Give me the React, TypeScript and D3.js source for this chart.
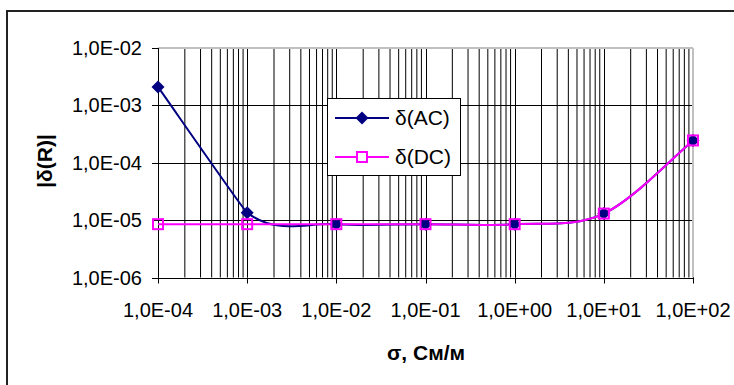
import React from "react";
import * as d3 from "d3";

const sigma = [1e-4, 1e-3, 1e-2, 1e-1, 1, 10, 100];
const acValues = [2.1e-3, 1.35e-5, 8.5e-6, 8.5e-6, 8.5e-6, 1.3e-5, 2.45e-4];
const dcValues = [8.5e-6, 8.5e-6, 8.5e-6, 8.5e-6, 8.5e-6, 1.3e-5, 2.45e-4];
const xTicks = [1e-4, 1e-3, 1e-2, 1e-1, 1, 10, 100];
const xTickLabels = ["1,0E-04", "1,0E-03", "1,0E-02", "1,0E-01", "1,0E+00", "1,0E+01", "1,0E+02"];
const yTicks = [1e-2, 1e-3, 1e-4, 1e-5, 1e-6];
const yTickLabels = ["1,0E-02", "1,0E-03", "1,0E-04", "1,0E-05", "1,0E-06"];
const seriesNames = ["δ(AC)", "δ(DC)"];

const W = 734, H = 385;
const L = 158, R = 693, T = 48, B = 277.5;
const AC_COLOR = "#000080";
const DC_COLOR = "#FF00FF";
const FONT = "'Liberation Sans', Arial, sans-serif";

// Excel-like smoothed line: uniform Catmull-Rom Bezier segments,
// optionally with the first segment's incoming handle shortened.
function smoothPath(pts: [number, number][], firstEndFactor = 1): string {
  const p = d3.path();
  const n = pts.length;
  p.moveTo(pts[0][0], pts[0][1]);
  const f = 1 / 6;
  for (let i = 0; i < n - 1; i++) {
    const p0 = pts[Math.max(0, i - 1)];
    const p1 = pts[i];
    const p2 = pts[i + 1];
    const p3 = pts[Math.min(n - 1, i + 2)];
    const c1x = p1[0] + (p2[0] - p0[0]) * f;
    const c1y = p1[1] + (p2[1] - p0[1]) * f;
    const k = i === 0 ? firstEndFactor : 1;
    const c2x = p2[0] - (p3[0] - p1[0]) * f * k;
    const c2y = p2[1] - (p3[1] - p1[1]) * f * k;
    p.bezierCurveTo(c1x, c1y, c2x, c2y, p2[0], p2[1]);
  }
  return p.toString();
}

export default function App() {
  const x = d3.scaleLog().domain([1e-4, 100]).range([L, R]);
  const y = d3.scaleLog().domain([1e-6, 1e-2]).range([B, T]);

  const minor: number[] = [];
  for (let e = -4; e < 2; e++) {
    for (let k = 2; k <= 9; k++) minor.push(k * Math.pow(10, e));
  }

  const acPts = sigma.map((s, i) => [x(s), y(acValues[i])] as [number, number]);
  const dcPts = sigma.map((s, i) => [x(s), y(dcValues[i])] as [number, number]);

  const diamond = (cx: number, cy: number, r: number) =>
    `M${cx},${cy - r}L${cx + r},${cy}L${cx},${cy + r}L${cx - r},${cy}Z`;

  return (
    <div style={{ position: "fixed", left: 0, top: 0, width: W, height: H, background: "#fff" }}>
      <svg width={W} height={H} style={{ display: "block" }} fontFamily={FONT}>
        <rect x={0} y={0} width={W} height={H} fill="#fff" />
        <rect x={7} y={11} width={900} height={600} fill="#fff" stroke="#222" strokeWidth={2} />

        {/* vertical gridlines */}
        {minor.map((v, i) => (
          <line key={"mn" + i} x1={x(v)} x2={x(v)} y1={T} y2={B} stroke="#000" strokeWidth={1} />
        ))}
        {xTicks.map((v, i) => (
          <line key={"mj" + i} x1={Math.round(x(v)) + 0.5} x2={Math.round(x(v)) + 0.5} y1={T} y2={B} stroke="#000" strokeWidth={1} />
        ))}
        {/* horizontal gridlines */}
        {yTicks.slice(1).map((v, i) => (
          <line key={"hy" + i} x1={L} x2={R} y1={Math.round(y(v)) + 0.5} y2={Math.round(y(v)) + 0.5} stroke="#000" strokeWidth={1} />
        ))}
        {/* plot border top/right */}
        <line x1={L} x2={R} y1={T} y2={T} stroke="#c0c0c0" strokeWidth={2} />
        <line x1={R} x2={R} y1={T} y2={B} stroke="#c0c0c0" strokeWidth={2} />

        {/* axes */}
        <line x1={L + 0.5} x2={L + 0.5} y1={T} y2={B} stroke="#000" strokeWidth={1} />
        <line x1={L} x2={R} y1={Math.round(B) + 0.5} y2={Math.round(B) + 0.5} stroke="#000" strokeWidth={1} />
        {yTicks.map((v, i) => (
          <g key={"yt" + i}>
            <line x1={L - 6} x2={L} y1={Math.round(y(v)) + 0.5} y2={Math.round(y(v)) + 0.5} stroke="#000" />
            <text x={142} y={y(v) + 7} textAnchor="end" fontSize={20} fill="#000">
              {yTickLabels[i]}
            </text>
          </g>
        ))}
        {xTicks.map((v, i) => (
          <g key={"xt" + i}>
            <line x1={Math.round(x(v)) + 0.5} x2={Math.round(x(v)) + 0.5} y1={B} y2={B + 6} stroke="#000" />
            <text x={x(v)} y={317} textAnchor="middle" fontSize={20} fill="#000">
              {xTickLabels[i]}
            </text>
          </g>
        ))}

        {/* series */}
        <path d={smoothPath(acPts, 0.15)} fill="none" stroke={AC_COLOR} strokeWidth={2} />
        <path d={smoothPath(dcPts)} fill="none" stroke={DC_COLOR} strokeWidth={2} />
        {acPts.map((p, i) => (
          <path key={"am" + i} d={diamond(p[0], p[1], 6.5)} fill={AC_COLOR} />
        ))}
        {dcPts.map((p, i) => (
          <rect key={"dm" + i} x={p[0] - 5} y={p[1] - 5} width={10} height={10} fill="none" stroke={DC_COLOR} strokeWidth={2} />
        ))}

        {/* legend */}
        <rect x={327.5} y={98.5} width={133} height={77} fill="#fff" stroke="#000" strokeWidth={1} />
        <line x1={335} x2={389} y1={118} y2={118} stroke={AC_COLOR} strokeWidth={2} />
        <path d={diamond(362, 118, 6.5)} fill={AC_COLOR} />
        <text x={395} y={125} fontSize={21} fill="#000">{seriesNames[0]}</text>
        <line x1={335} x2={389} y1={157} y2={157} stroke={DC_COLOR} strokeWidth={2} />
        <rect x={357} y={152} width={10} height={10} fill="#fff" stroke={DC_COLOR} strokeWidth={2} />
        <text x={395} y={164} fontSize={21} fill="#000">{seriesNames[1]}</text>

        {/* axis titles */}
        <text x={426} y={360} textAnchor="middle" fontSize={21} fontWeight="bold" fill="#000">
          σ, См/м
        </text>
        <text transform="translate(52,161) rotate(-90)" textAnchor="middle" fontSize={21} fontWeight="bold" fill="#000">
          |δ(R)|
        </text>
      </svg>
    </div>
  );
}
